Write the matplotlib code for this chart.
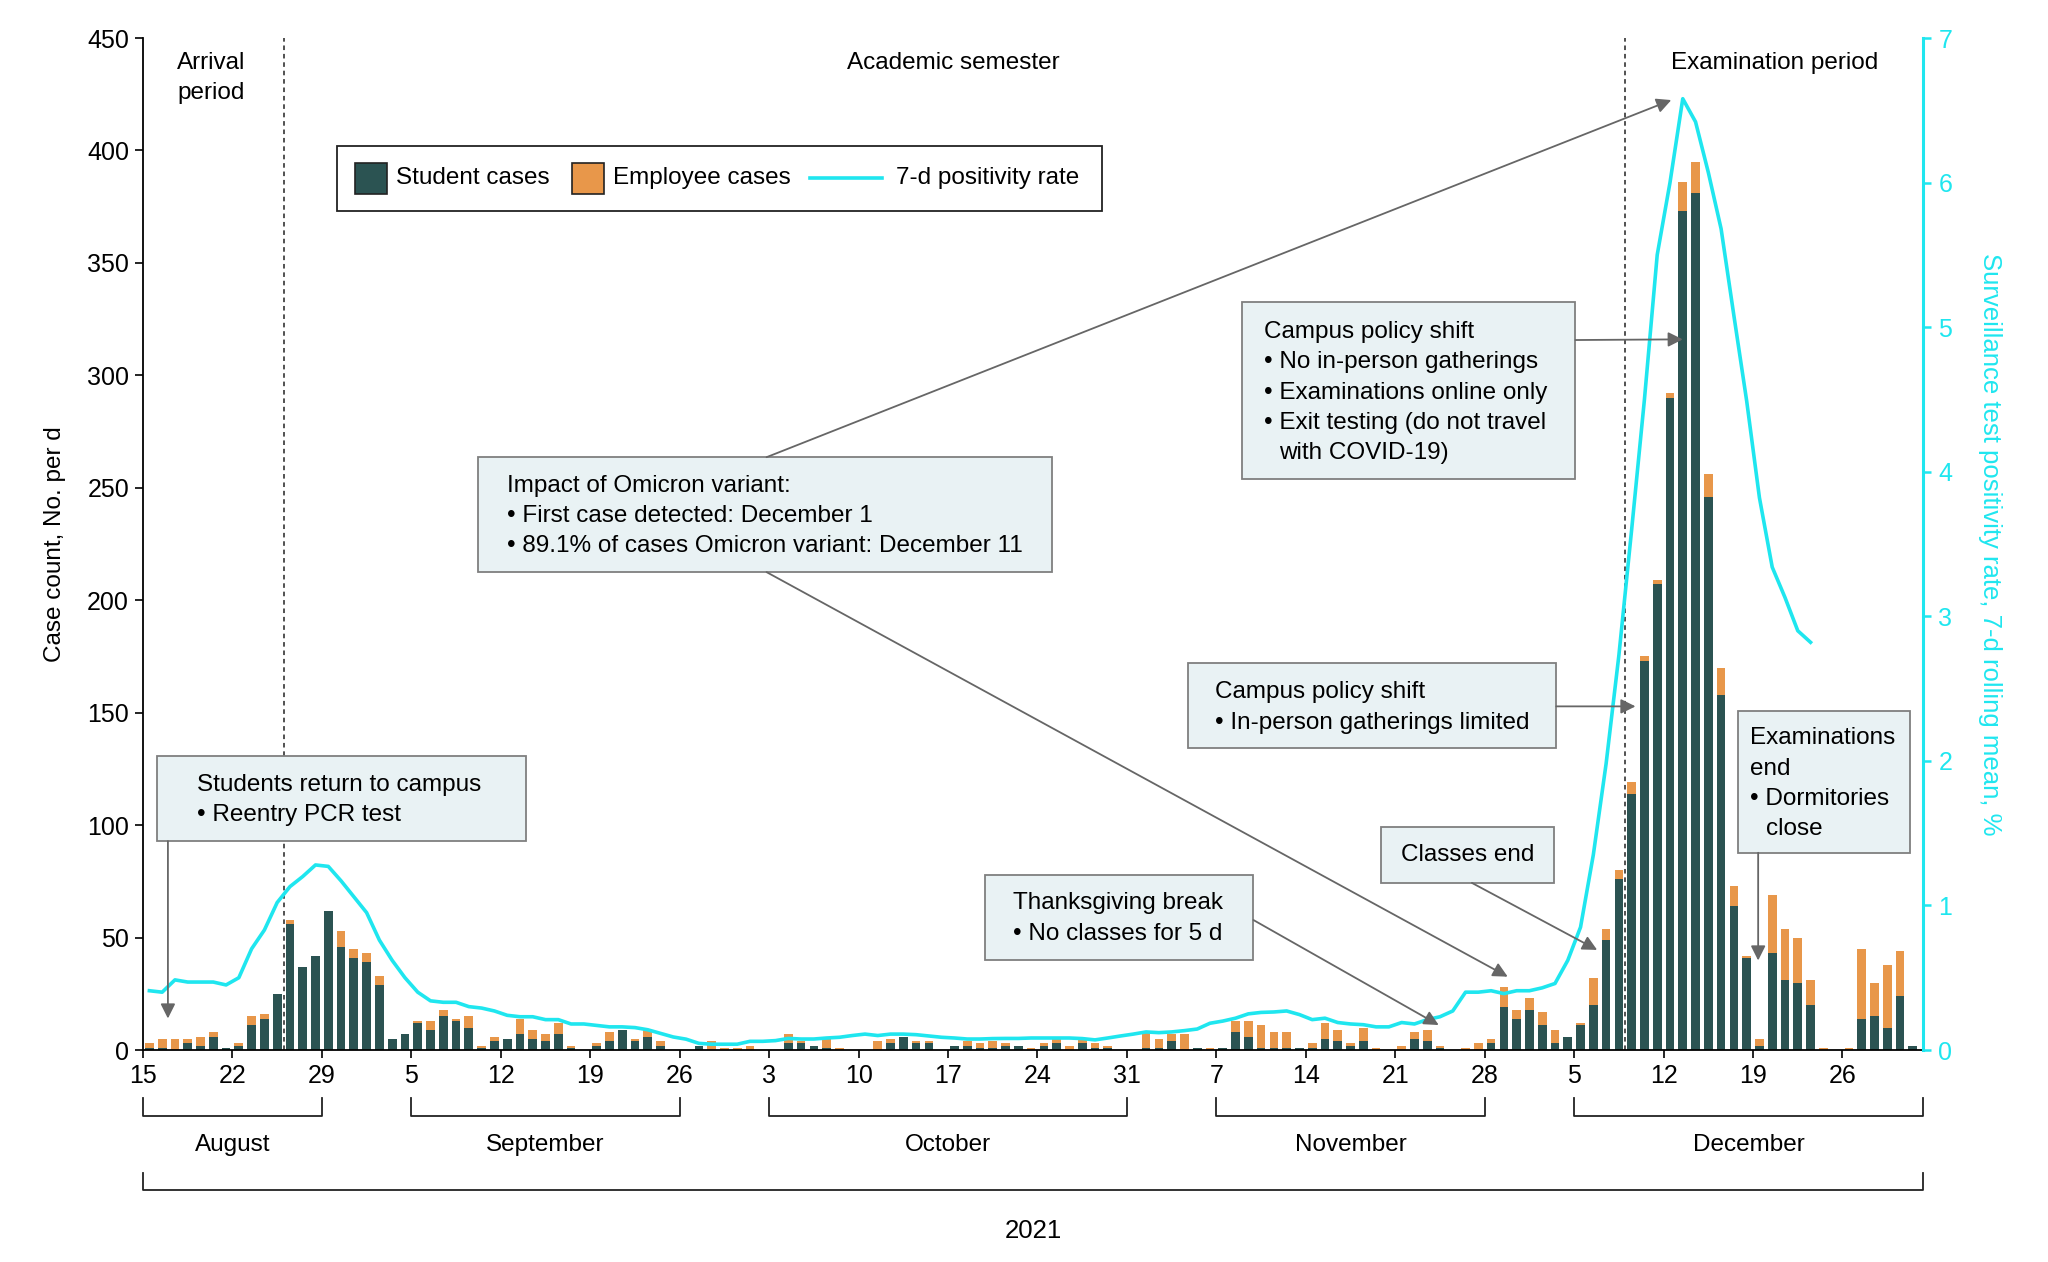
import numpy as np
import matplotlib
matplotlib.use('Agg')
import matplotlib.pyplot as plt
from matplotlib.patches import Rectangle
from matplotlib.lines import Line2D
from matplotlib.transforms import blended_transform_factory

plt.rcParams['font.family'] = ['Liberation Sans', 'DejaVu Sans']

# daily cases, Aug 15 (day 0) .. Dec 31 (day 138)
students = [1, 1, 0, 3, 2, 6, 1, 2, 11, 14, 25, 56, 37, 42, 62, 46, 41, 39, 29, 5,
            7, 12, 9, 15, 13, 10, 1, 4, 5, 7, 5, 4, 7, 1, 0, 2, 4, 9, 4, 6,
            2, 0, 0, 2, 0, 0, 0, 0, 0, 0, 3, 3, 2, 1, 0, 0, 0, 0, 3, 6,
            3, 3, 0, 2, 2, 1, 1, 2, 2, 0, 2, 3, 0, 3, 1, 1, 0, 0, 1, 1,
            4, 0, 1, 0, 1, 8, 6, 1, 1, 1, 1, 1, 5, 4, 2, 4, 0, 0, 0, 5,
            4, 1, 0, 0, 0, 3, 19, 14, 18, 11, 3, 6, 11, 20, 49, 76, 114, 173, 207, 290,
            373, 381, 246, 158, 64, 41, 2, 43, 31, 30, 20, 0, 0, 0, 14, 15, 10, 24, 2]
employees = [2, 4, 5, 2, 4, 2, 0, 1, 4, 2, 0, 2, 0, 0, 0, 7, 4, 4, 4, 0,
             0, 1, 4, 3, 1, 5, 1, 2, 0, 7, 4, 3, 5, 1, 0, 1, 4, 0, 1, 3,
             2, 0, 0, 0, 4, 1, 1, 2, 0, 0, 4, 1, 0, 4, 1, 0, 0, 4, 2, 0,
             1, 1, 0, 0, 2, 2, 3, 1, 0, 1, 1, 2, 2, 2, 2, 1, 0, 0, 7, 4,
             3, 7, 0, 1, 0, 5, 7, 10, 7, 7, 0, 2, 7, 5, 1, 6, 1, 0, 2, 3,
             5, 1, 0, 1, 3, 2, 9, 4, 5, 6, 6, 0, 1, 12, 5, 4, 5, 2, 2, 2,
             13, 14, 10, 12, 9, 1, 3, 26, 23, 20, 11, 1, 0, 1, 31, 15, 28, 20, 0]
# 7-d rolling positivity rate (%), Aug 15 .. Dec 23
positivity = [0.41, 0.40, 0.485, 0.47, 0.47, 0.47, 0.45, 0.50, 0.70, 0.83,
              1.02, 1.13, 1.20, 1.28, 1.27, 1.17, 1.06, 0.95, 0.76, 0.62,
              0.50, 0.40, 0.34, 0.33, 0.33, 0.30, 0.29, 0.27, 0.24, 0.23,
              0.23, 0.21, 0.21, 0.18, 0.18, 0.17, 0.16, 0.16, 0.155, 0.14,
              0.115, 0.09, 0.075, 0.046, 0.04, 0.04, 0.04, 0.06, 0.06, 0.065,
              0.08, 0.076, 0.076, 0.083, 0.088, 0.10, 0.11, 0.10, 0.11, 0.11,
              0.106, 0.097, 0.088, 0.083, 0.076, 0.076, 0.079, 0.08, 0.08, 0.083,
              0.083, 0.083, 0.083, 0.079, 0.07, 0.083, 0.097, 0.11, 0.125, 0.12,
              0.125, 0.134, 0.145, 0.185, 0.20, 0.22, 0.25, 0.26, 0.263, 0.27,
              0.245, 0.21, 0.22, 0.19, 0.18, 0.175, 0.16, 0.16, 0.19, 0.18,
              0.21, 0.23, 0.27, 0.40, 0.40, 0.41, 0.39, 0.41, 0.41, 0.43,
              0.46, 0.62, 0.85, 1.35, 1.98, 2.73, 3.6, 4.5, 5.5, 6.0,
              6.58, 6.42, 6.07, 5.68, 5.08, 4.49, 3.82, 3.34, 3.13, 2.90, 2.82]

tick_days = list(range(0, 134, 7))
tick_labels = ['15', '22', '29', '5', '12', '19', '26', '3', '10', '17', '24', '31',
               '7', '14', '21', '28', '5', '12', '19', '26']
months = ['August', 'September', 'October', 'November', 'December']
month_spans = [(0, 14), (21, 42), (49, 77), (84, 105), (112, 139.3)]

C_STUDENT = '#2b5352'
C_EMPLOYEE = '#e8974a'
C_LINE = '#1fe6ef'
C_BOX = '#e9f2f4'
C_ARROW = '#666666'
FS = 17.5
XMAX = 139.3

fig = plt.figure(figsize=(20.48, 12.62), dpi=100)
ax = fig.add_axes([143 / 2048, 212 / 1262, 1780 / 2048, 1012 / 1262])
ax2 = ax.twinx()

x = np.arange(len(students)) + 0.5
ax.bar(x, students, width=0.68, color=C_STUDENT, zorder=2)
ax.bar(x, employees, width=0.68, bottom=students, color=C_EMPLOYEE, zorder=2)
ax2.plot(x[:len(positivity)], positivity, color=C_LINE, lw=2.6, solid_joinstyle='round')

ax.set_xlim(0, XMAX)
ax.set_ylim(0, 450)
ax2.set_ylim(0, 7)
ax.set_xticks(tick_days, tick_labels)
ax.set_yticks(range(0, 451, 50))
ax2.set_yticks(range(8))

for s in ['top', 'right']:
    ax.spines[s].set_visible(False)
for s in ['top', 'left', 'bottom']:
    ax2.spines[s].set_visible(False)
ax.spines['left'].set_linewidth(1.3)
ax.spines['bottom'].set_linewidth(1.3)
ax2.spines['right'].set_color(C_LINE)
ax2.spines['right'].set_linewidth(2.2)
ax.tick_params(axis='both', labelsize=18, length=6, width=1.2, pad=4)
ax2.tick_params(axis='y', labelsize=18, length=6, width=1.8, pad=5,
                colors=C_LINE, labelcolor=C_LINE)

ax.set_ylabel('Case count, No. per d', fontsize=FS, va='center')
ax.yaxis.set_label_coords((55 - 143) / 1780, 0.5)
ax2.set_ylabel('Surveillance test positivity rate, 7-d rolling mean, %',
               fontsize=FS + 1, color=C_LINE, rotation=270, va='center')
ax2.yaxis.set_label_coords((1990 - 143) / 1780, 0.5)

# period separators
for d in [11, 116]:
    ax.axvline(d, color='#222222', lw=1.1, ls=(0, (3, 2.5)), zorder=1)

ax.text(5.3, 439, 'Arrival', ha='center', va='center', fontsize=FS)
ax.text(5.3, 425.6, 'period', ha='center', va='center', fontsize=FS)
ax.text(63.4, 439, 'Academic semester', ha='center', va='center', fontsize=FS)
ax.text(127.7, 439, 'Examination period', ha='center', va='center', fontsize=FS)

td = ax.transData
ROW = 13.5


def box(x0, x1, y0, y1, tx, ty, lines, center=False):
    ax2.add_patch(Rectangle((x0, y0), x1 - x0, y1 - y0, transform=td,
                            facecolor=C_BOX, edgecolor='#7f7f7f', lw=1.3, zorder=5))
    for i, (txt, ind) in enumerate(lines):
        ax2.text(tx + ind, ty - i * ROW, txt, transform=td, fontsize=FS,
                 ha='center' if center else 'left', va='center', zorder=6)


def arrow(tail, head):
    ax2.annotate('', xy=head, xytext=tail, xycoords=td, textcoords=td,
                 arrowprops=dict(arrowstyle='-|>', color=C_ARROW, lw=1.3,
                                 mutation_scale=22, shrinkA=0, shrinkB=0),
                 zorder=6)


IND = 1.2
box(1.12, 29.96, 92.9, 130.7, 4.2, 117.9,
    [('Students return to campus', 0), ('• Reentry PCR test', 0)])
box(65.9, 86.9, 40.0, 77.8, 68.1, 65.3,
    [('Thanksgiving break', 0), ('• No classes for 5 d', 0)])
box(96.9, 110.4, 74.3, 99.3, 103.65, 86.8, [('Classes end', 0)], center=True)
box(26.2, 71.1, 212.5, 263.6, 28.5, 250.9,
    [('Impact of Omicron variant:', 0), ('• First case detected: December 1', 0),
     ('• 89.1% of cases Omicron variant: December 11', 0)])
box(81.8, 110.6, 134.1, 171.9, 83.9, 159.1,
    [('Campus policy shift', 0), ('• In-person gatherings limited', 0)])
box(86.0, 112.1, 253.9, 332.6, 87.7, 319.3,
    [('Campus policy shift', 0), ('• No in-person gatherings', 0),
     ('• Examinations online only', 0), ('• Exit testing (do not travel', 0),
     ('with COVID-19)', IND)])
box(124.85, 138.3, 87.7, 150.9, 125.8, 138.6,
    [('Examinations', 0), ('end', 0), ('• Dormitories', 0), ('close', IND)])

arrow((1.95, 92.9), (1.95, 14))
arrow((86.9, 57.8), (101.4, 11.1))
arrow((104.0, 74.3), (113.8, 44.5))
arrow((48.8, 263.6), (119.6, 422.4))
arrow((48.8, 212.5), (106.8, 32.6))
arrow((110.6, 152.8), (116.8, 152.8))
arrow((112.1, 315.7), (120.5, 316.0))
arrow((126.4, 87.7), (126.4, 39.8))

# legend drawn by hand
ta = ax2.transAxes
ax2.add_patch(Rectangle((0.109, 0.829), 0.430, 0.064, transform=ta, facecolor='white',
                        edgecolor='#222222', lw=1.3, zorder=7))
ax2.add_patch(Rectangle((0.1191, 0.8458), 0.018, 0.0306, transform=ta, facecolor=C_STUDENT,
                        edgecolor='#222222', lw=1.2, zorder=8))
ax2.text(0.1421, 0.8617, 'Student cases', transform=ta, fontsize=FS, va='center', zorder=8)
ax2.add_patch(Rectangle((0.2410, 0.8458), 0.018, 0.0306, transform=ta, facecolor=C_EMPLOYEE,
                        edgecolor='#222222', lw=1.2, zorder=8))
ax2.text(0.2640, 0.8617, 'Employee cases', transform=ta, fontsize=FS, va='center', zorder=8)
ax2.add_line(Line2D([0.3747, 0.4152], [0.8617, 0.8617], transform=ta, color=C_LINE,
                    lw=2.6, zorder=8))
ax2.text(0.4230, 0.8617, '7-d positivity rate', transform=ta, fontsize=FS, va='center', zorder=8)

# month and year brackets below the axis
bt = blended_transform_factory(ax.transData, ax.transAxes)
for name, (a, b) in zip(months, month_spans):
    ax.plot([a, a, b, b], [-0.0474, -0.0652, -0.0652, -0.0474], transform=bt,
            clip_on=False, color='#222222', lw=1.3)
    ax.text((a + b) / 2, -0.0939, name, transform=bt, ha='center', va='center', fontsize=FS)
ax.plot([0, 0, XMAX, XMAX], [-0.1215, -0.1383, -0.1383, -0.1215], transform=bt,
        clip_on=False, color='#222222', lw=1.3)
ax.text(XMAX / 2, -0.1789, '2021', transform=bt, ha='center', va='center', fontsize=FS + 1)

fig.savefig('out.png', dpi=100)
